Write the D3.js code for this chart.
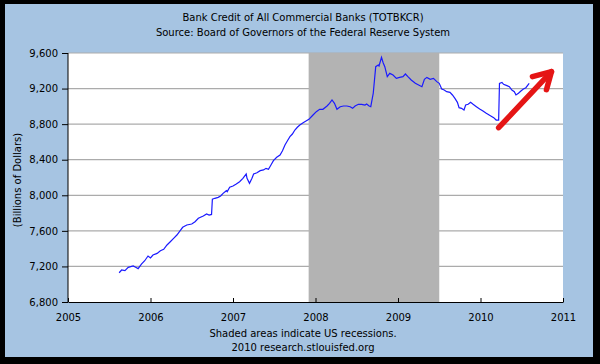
<!DOCTYPE html>
<html>
<head>
<meta charset="utf-8">
<script src="https://d3js.org/d3.v7.min.js"></script>
<style>
  body { margin: 0; background: #000; }
  text { font-family: "DejaVu Sans", Verdana, sans-serif; fill: #000; }
</style>
</head>
<body>
<div id="chart"></div>
<script>
    // series (decimal year, billions of dollars)
    var years = [2005.62, 2005.65, 2005.69, 2005.73, 2005.79, 2005.82, 2005.85, 2005.89, 2005.93, 2005.97,
        2006.00, 2006.03, 2006.08, 2006.12, 2006.16, 2006.20, 2006.24, 2006.28, 2006.32, 2006.36,
        2006.39, 2006.44, 2006.50, 2006.54, 2006.58, 2006.64, 2006.68, 2006.71, 2006.74, 2006.75,
        2006.78, 2006.82, 2006.85, 2006.88, 2006.92, 2006.93, 2006.96, 2007.00, 2007.04, 2007.08,
        2007.12, 2007.16, 2007.17, 2007.20, 2007.23, 2007.25, 2007.29, 2007.33, 2007.37, 2007.40,
        2007.43, 2007.46, 2007.49, 2007.53, 2007.57, 2007.60, 2007.63, 2007.66, 2007.69, 2007.72,
        2007.75, 2007.78, 2007.81, 2007.85, 2007.89, 2007.92, 2007.97, 2008.01, 2008.05, 2008.09,
        2008.14, 2008.17, 2008.20, 2008.23, 2008.26, 2008.30, 2008.34, 2008.38, 2008.42, 2008.45,
        2008.48, 2008.52, 2008.56, 2008.60, 2008.62, 2008.65, 2008.67, 2008.70, 2008.73, 2008.76,
        2008.77, 2008.80, 2008.82, 2008.84, 2008.87, 2008.90, 2008.94, 2008.98, 2009.02, 2009.06,
        2009.09, 2009.12, 2009.16, 2009.21, 2009.25, 2009.29, 2009.32, 2009.35, 2009.39, 2009.43,
        2009.47, 2009.50, 2009.53, 2009.56, 2009.59, 2009.63, 2009.66, 2009.69, 2009.72, 2009.74,
        2009.77, 2009.80, 2009.82, 2009.85, 2009.88, 2009.91, 2009.95, 2009.99, 2010.03, 2010.07,
        2010.12, 2010.16, 2010.19, 2010.22, 2010.23, 2010.26, 2010.28, 2010.32, 2010.35, 2010.38,
        2010.41, 2010.43, 2010.46, 2010.49, 2010.52, 2010.55, 2010.59];

    var credit = [7129, 7160, 7152, 7190, 7205, 7190, 7175, 7227, 7264, 7317,
        7295, 7328, 7347, 7377, 7393, 7441, 7478, 7516, 7553, 7602,
        7640, 7666, 7677, 7703, 7741, 7767, 7790, 7778, 7785, 7955,
        7966, 7977, 7992, 8022, 8052, 8041, 8090, 8105, 8127, 8153,
        8191, 8239, 8191, 8135, 8191, 8239, 8254, 8277, 8285, 8303,
        8292, 8341, 8389, 8427, 8453, 8501, 8565, 8614, 8659, 8689,
        8734, 8765, 8790, 8816, 8838, 8854, 8903, 8940, 8967, 8967,
        9004, 9034, 9072, 9034, 8967, 8996, 9004, 9004, 8996, 8978,
        9004, 9023, 9023, 9015, 9026, 9004, 8996, 9147, 9446, 9465,
        9454, 9552, 9491, 9446, 9334, 9371, 9352, 9315, 9326, 9334,
        9364, 9334, 9296, 9259, 9240, 9221, 9304, 9326, 9304, 9315,
        9278, 9259, 9195, 9184, 9165, 9158, 9128, 9090, 9045, 8985,
        8978, 8959, 9015, 9023, 9045, 9023, 8996, 8970, 8948, 8922,
        8895, 8873, 8846, 8846, 9259, 9270, 9248, 9233, 9221, 9184,
        9165, 9128, 9147, 9173, 9195, 9210, 9259];

    var recession = [2007.917, 2009.5];
    var yTicks = [6800, 7200, 7600, 8000, 8400, 8800, 9200, 9600];
    var xTicks = [2005, 2006, 2007, 2008, 2009, 2010, 2011];
    var arrowFrom = [2010.22, 8760], arrowTo = [2010.86, 9390];

    var titleLines = ["Bank Credit of All Commercial Banks (TOTBKCR)",
                      "Source: Board of Governors of the Federal Reserve System"];
    var footLines = ["Shaded areas indicate US recessions.", "2010 research.stlouisfed.org"];

    var W = 600, H = 364;
    var margin = {top: 53, right: 37, bottom: 62, left: 68},
        width = W - margin.left - margin.right,
        height = H - margin.top - margin.bottom;

    var svg = d3.select("#chart").append("svg")
        .attr("width", W).attr("height", H);

    // frame
    svg.append("rect").attr("width", W).attr("height", H).attr("fill", "#000");
    svg.append("rect").attr("x", 5).attr("y", 4).attr("width", 588).attr("height", 353)
        .attr("fill", "#a6c4e2");

    // titles
    svg.selectAll(".title").data(titleLines).enter().append("text")
        .attr("x", 303).attr("y", function(d, i) { return 21 + i * 15; })
        .attr("text-anchor", "middle").style("font-size", "10px")
        .text(function(d) { return d; });
    svg.selectAll(".foot").data(footLines).enter().append("text")
        .attr("x", 303).attr("y", function(d, i) { return 337 + i * 14; })
        .attr("text-anchor", "middle").style("font-size", "10px")
        .text(function(d) { return d; });

    var g = svg.append("g")
        .attr("transform", "translate(" + margin.left + "," + margin.top + ")");

    var x = d3.scaleLinear().domain([2005, 2011]).range([0, width]);
    var y = d3.scaleLinear().domain([6800, 9600]).range([height, 0]);

    g.append("rect").attr("width", width).attr("height", height).attr("fill", "#fff");

    // grid
    g.selectAll(".grid").data(yTicks.slice(1)).enter().append("line")
        .attr("x1", 0).attr("x2", width)
        .attr("y1", function(d) { return y(d); }).attr("y2", function(d) { return y(d); })
        .attr("stroke", "#ababab").attr("stroke-width", 1.2);

    // recession shading
    g.append("rect")
        .attr("x", x(recession[0])).attr("width", x(recession[1]) - x(recession[0]))
        .attr("y", 0).attr("height", height)
        .attr("fill", "#b3b3b3");

    // y axis
    var yAxis = g.append("g")
        .call(d3.axisLeft(y).tickValues(yTicks).tickSize(6).tickPadding(4)
            .tickFormat(d3.format(",")));
    yAxis.select(".domain").attr("d", "M0," + height + "V0").attr("stroke", "#000");
    yAxis.selectAll("text").style("font-size", "10px");

    // x axis (ticks point up)
    var xAxis = g.append("g")
        .attr("transform", "translate(0," + height + ")")
        .call(d3.axisBottom(x).tickValues(xTicks).tickSizeInner(-4).tickSizeOuter(0)
            .tickPadding(12).tickFormat(d3.format("d")));
    xAxis.selectAll("text").style("font-size", "10px");
    xAxis.select(".domain").attr("stroke", "#000");

    // axis title
    svg.append("text")
        .attr("transform", "translate(21," + 180 + ") rotate(-90)")
        .attr("text-anchor", "middle").style("font-size", "10px")
        .text("(Billions of Dollars)");

    // series line
    var line = d3.line()
        .x(function(d, i) { return x(years[i]); })
        .y(function(d) { return y(d); });
    g.append("path").datum(credit)
        .attr("d", line)
        .attr("fill", "none").attr("stroke", "#1a1aff").attr("stroke-width", 1.2);

    // red arrow annotation
    var ax0 = x(arrowFrom[0]), ay0 = y(arrowFrom[1]),
        ax1 = x(arrowTo[0]), ay1 = y(arrowTo[1]);
    var red = g.append("g").attr("stroke", "#e51515").attr("stroke-width", 5.5)
        .attr("stroke-linecap", "round").attr("stroke-linejoin", "round").attr("fill", "none");
    red.append("line").attr("x1", ax0).attr("y1", ay0).attr("x2", ax1).attr("y2", ay1);
    red.append("polyline")
        .attr("points", (ax1 - 19) + "," + (ay1 + 5) + " " + ax1 + "," + ay1 + " " + (ax1 - 5) + "," + (ay1 + 18));
</script>
</body>
</html>
